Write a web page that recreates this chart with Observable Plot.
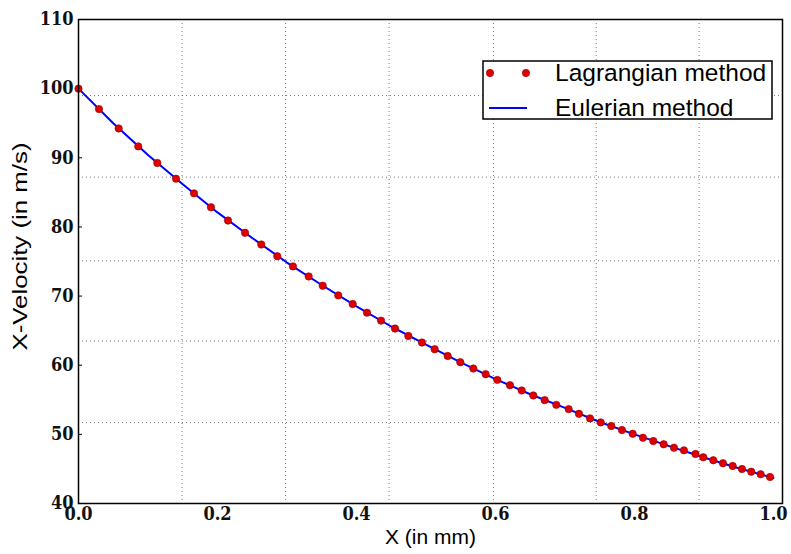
<!DOCTYPE html>
<html><head><meta charset="utf-8">
<script src="https://cdn.jsdelivr.net/npm/d3@7"></script>
<script src="https://cdn.jsdelivr.net/npm/@observablehq/plot@0.6"></script>
<style>
body{margin:0;background:#fff;}
#wrap{position:relative;width:791px;height:554px;}
#legend{position:absolute;left:482px;top:60px;}
</style></head><body><div id="wrap"></div>
<script>
// Lagrangian particle samples (X in mm, velocity in m/s)
const lagX = [0, 0.0295, 0.0578, 0.086, 0.1134, 0.1403, 0.1662, 0.1906, 0.2151, 0.2396,
  0.263, 0.286, 0.3086, 0.3312, 0.3514, 0.3738, 0.3945, 0.4151, 0.4353, 0.4554,
  0.4746, 0.4942, 0.5125, 0.5312, 0.5494, 0.5681, 0.5859, 0.6026, 0.6209, 0.6377,
  0.6544, 0.6708, 0.6875, 0.7053, 0.7201, 0.736, 0.7514, 0.7666, 0.782, 0.7974,
  0.8122, 0.8271, 0.842, 0.8568, 0.8712, 0.8878, 0.899, 0.9134, 0.9273, 0.9413,
  0.9547, 0.968, 0.9816, 0.995];
const lagV = [100.0, 97.04, 94.24, 91.65, 89.25, 86.98, 84.86, 82.84, 80.92, 79.15,
  77.46, 75.77, 74.29, 72.84, 71.5, 70.1, 68.85, 67.6, 66.45, 65.3,
  64.23, 63.28, 62.31, 61.34, 60.43, 59.52, 58.7, 57.88, 57.11, 56.35,
  55.63, 54.95, 54.27, 53.65, 52.97, 52.31, 51.73, 51.2, 50.62, 50.09,
  49.51, 49.03, 48.56, 48.07, 47.69, 47.16, 46.68, 46.25, 45.82, 45.43,
  44.99, 44.6, 44.23, 43.84];
// Eulerian grid solution
const eulX = [0, 0.05, 0.1, 0.15, 0.2, 0.25, 0.3, 0.35, 0.4, 0.45, 0.5,
  0.55, 0.6, 0.65, 0.7, 0.75, 0.8, 0.85, 0.9, 0.95, 1.0];
const eulV = [100.0, 95.0, 90.4, 86.18, 82.1, 78.4, 74.85, 71.6, 68.5, 65.6, 62.98,
  60.4, 58.0, 55.8, 53.83, 51.78, 50.0, 48.3, 46.65, 45.1, 43.7];
// axis ticks
const xTicks = [0, 0.2, 0.4, 0.6, 0.8, 1.0];
const yTicks = [40, 50, 60, 70, 80, 90, 100, 110];
// dotted grid lines as drawn in the reference (offset from the ticks)
const xGrid = [0.149, 0.298, 0.447, 0.597, 0.745, 0.893];
const yGrid = [51.7, 63.5, 75.1, 87.2, 99.0];
const seriesNames = ["Lagrangian method", "Eulerian method"];
const axisLabels = {x: "X (in mm)", y: "X-Velocity (in m/s)"};

const lag = lagX.map((x, i) => ({x, v: lagV[i]}));
const eul = eulX.map((x, i) => ({x, v: eulV[i]}));

const tickFont = '"DejaVu Serif Condensed", "DejaVu Serif", serif';
const sans = '"Liberation Sans", Arial, sans-serif';

const chart = Plot.plot({
  width: 791, height: 554,
  marginLeft: 78, marginRight: 9, marginTop: 19, marginBottom: 51,
  x: {domain: [0, 1.013]},
  y: {domain: [40, 110]},
  style: {background: "white", overflow: "visible"},
  marks: [
    Plot.ruleX(xGrid, {stroke: "#777", strokeWidth: 1, strokeDasharray: "1,3"}),
    Plot.ruleY(yGrid, {stroke: "#777", strokeWidth: 1, strokeDasharray: "1,3"}),
    Plot.axisY({ticks: yTicks, tickSize: -4, tickFormat: () => "", label: null, stroke: "#000"}),
    Plot.line(eul, {x: "x", y: "v", stroke: "#0000ff", strokeWidth: 2}),
    Plot.dot(lag, {x: "x", y: "v", r: 3.7, fill: "#dd0000", stroke: "#990000", strokeWidth: 0.6}),
    Plot.frame({stroke: "#000", strokeWidth: 1.5}),
    Plot.axisX({ticks: xTicks, tickFormat: d3.format(".1f"), tickSize: 0, tickPadding: 4,
      label: null, fontFamily: tickFont, fontWeight: "bold", fontSize: 18, fill: "#111"}),
    Plot.axisY({ticks: yTicks, tickFormat: d3.format("d"), tickSize: 0, tickPadding: 5,
      label: null, fontFamily: tickFont, fontWeight: "bold", fontSize: 18, fill: "#111"}),
    Plot.text([axisLabels.x], {frameAnchor: "bottom", dy: 40, fontFamily: sans, fontSize: 21, fill: "#000"}),
    Plot.text([axisLabels.y], {frameAnchor: "left", textAnchor: "middle", dx: -58, dy: -15, rotate: -90,
      fontFamily: sans, fontSize: 21, fill: "#000", className: "ylabel"})
  ]
});

// the reference's y label is vertically stretched: fit it to its measured length
chart.querySelectorAll(".ylabel text").forEach(t => {
  t.setAttribute("textLength", 208);
  t.setAttribute("lengthAdjust", "spacingAndGlyphs");
});

const wrap = document.getElementById("wrap");
wrap.appendChild(chart);

// legend
const lg = d3.create("svg").attr("id", "legend").attr("width", 292).attr("height", 61);
lg.append("rect").attr("x", 1).attr("y", 1).attr("width", 289).attr("height", 58)
  .attr("fill", "white").attr("stroke", "#000").attr("stroke-width", 1.5);
[8, 44].forEach(cx => lg.append("circle").attr("cx", cx).attr("cy", 13).attr("r", 3.7)
  .attr("fill", "#dd0000").attr("stroke", "#990000").attr("stroke-width", 0.6));
lg.append("line").attr("x1", 7).attr("x2", 45).attr("y1", 48).attr("y2", 48)
  .attr("stroke", "#0000ff").attr("stroke-width", 2);
seriesNames.forEach((t, i) => lg.append("text").attr("x", 73).attr("y", i ? 56 : 21)
  .attr("font-family", sans).attr("font-size", 24.5).attr("fill", "#000").text(t));
wrap.appendChild(lg.node());
</script></body></html>
